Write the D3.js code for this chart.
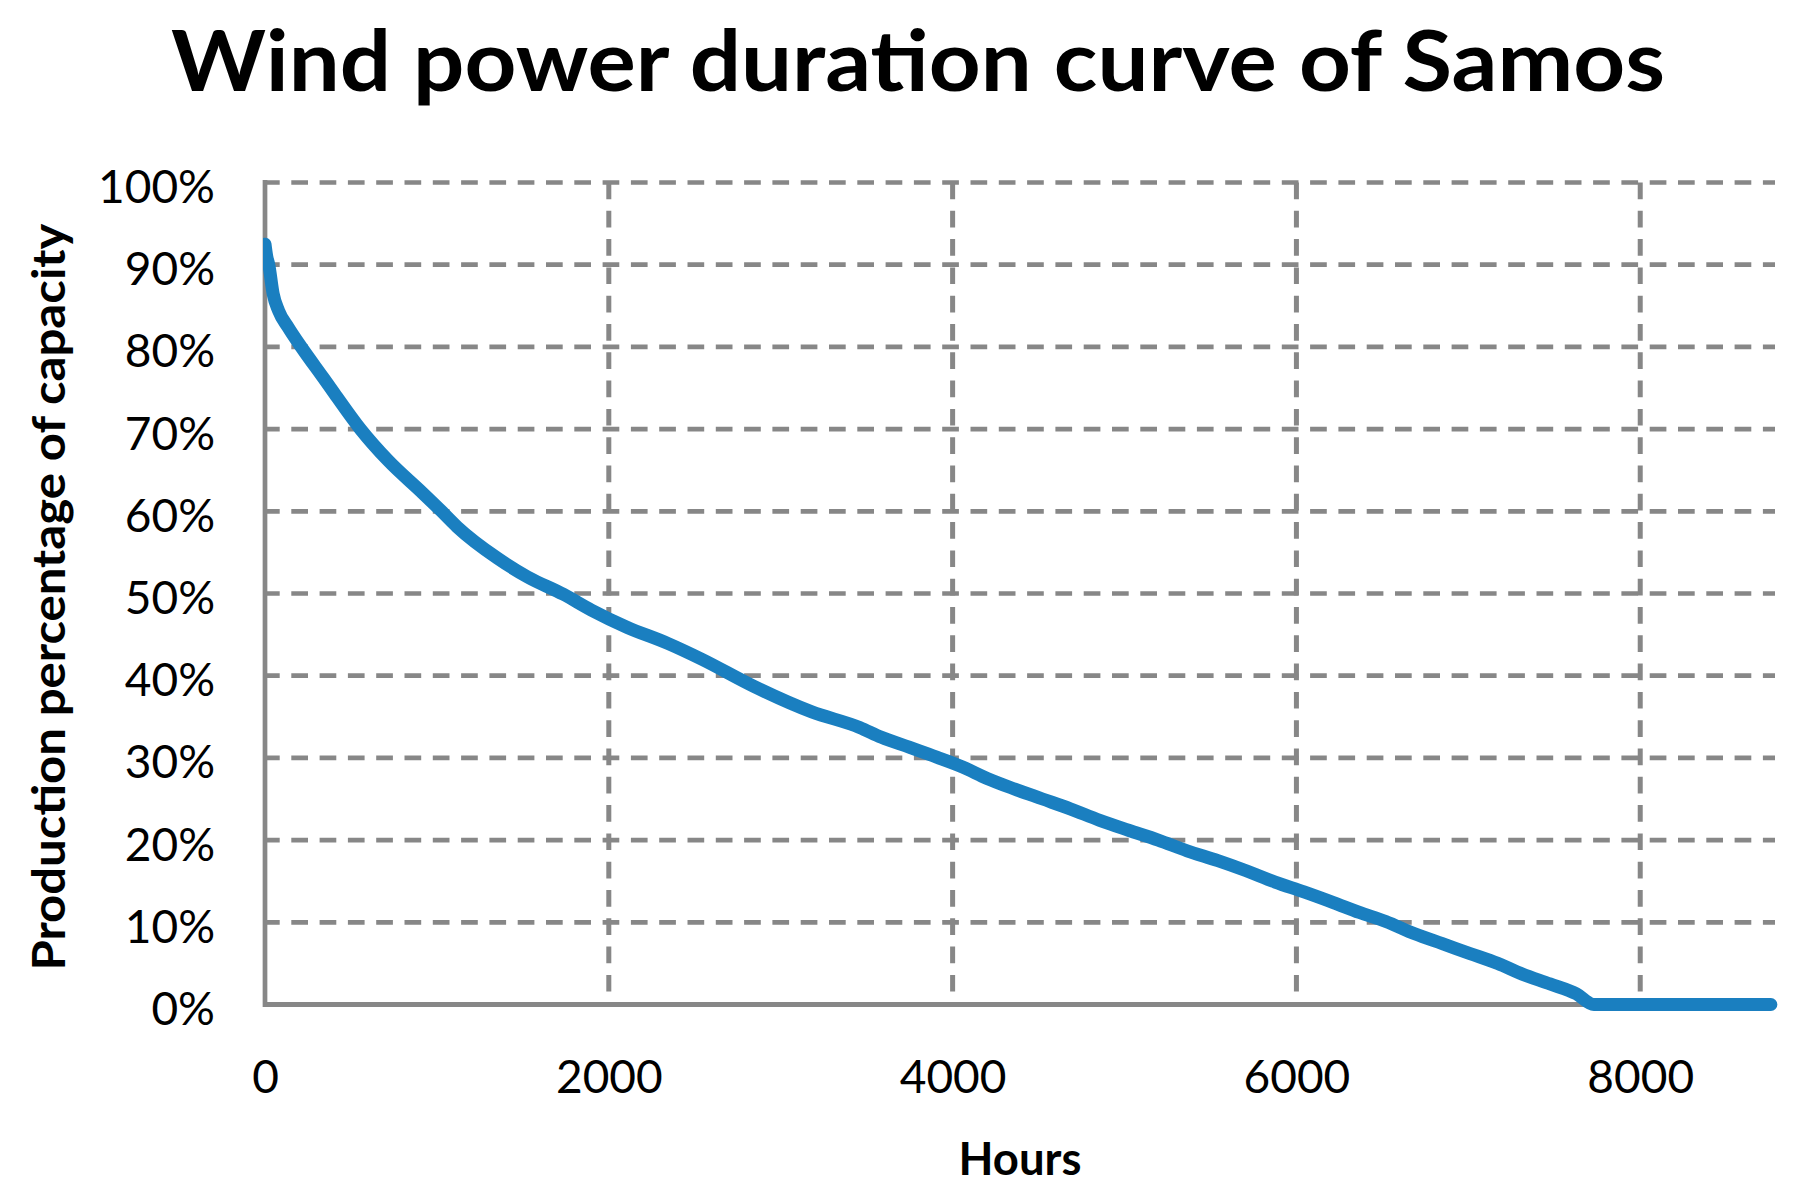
<!DOCTYPE html>
<html>
<head>
<meta charset="utf-8">
<script src="https://cdn.jsdelivr.net/npm/d3@7"></script>
<style>
  html, body { margin: 0; padding: 0; background: #ffffff; }
  svg { display: block; }
  text { font-family: Lato, "Open Sans", sans-serif; fill: #000; }
</style>
</head>
<body>
<svg id="chart" width="1816" height="1203"></svg>
<script>
// ---- data ----
const hours = [0, 10, 22, 47, 79, 134, 217, 337, 405, 555, 715, 918, 1022, 1118, 1352, 1529, 1736, 1897,
  2105, 2346, 2541, 2844, 3181, 3459, 3586, 3747, 3907, 4058, 4201, 4362, 4523, 4684, 4856, 5023,
  5196, 5364, 5543, 5704, 5876, 6044, 6215, 6366, 6520, 6688, 6849, 7010, 7171, 7314, 7475, 7628, 7730, 8760];
const production = [92.5, 91.0, 90.0, 86.5, 84.4, 82.4, 79.8, 76.3, 74.3, 70.0, 66.2, 62.2, 60.1, 58.1, 54.3, 52.0, 49.9, 48.0,
  45.9, 43.9, 42.0, 38.7, 35.6, 33.7, 32.5, 31.3, 30.1, 28.9, 27.5, 26.2, 25.0, 23.8, 22.4, 21.2,
  20.0, 18.7, 17.5, 16.3, 14.9, 13.7, 12.4, 11.2, 10.1, 8.6, 7.4, 6.2, 5.0, 3.7, 2.5, 1.3, 0, 0];
const xTicks = [0, 2000, 4000, 6000, 8000];
const yTicks = [0, 10, 20, 30, 40, 50, 60, 70, 80, 90, 100];
const xMax = 8784;
const titleText = "Wind power duration curve of Samos";
const xTitle = "Hours";
const yTitle = "Production percentage of capacity";

// ---- layout ----
const svg = d3.select("#chart");
const plot = { left: 265, right: 1775, top: 182.5, bottom: 1004.5 };
const gridColor = "#878787";
const lineColor = "#1a7fc0";

const x = d3.scaleLinear().domain([0, xMax]).range([plot.left, plot.right]);
const y = d3.scaleLinear().domain([0, 100]).range([plot.bottom, plot.top]);

// horizontal gridlines
svg.append("g").selectAll("line").data(yTicks.filter(d => d > 0)).join("line")
  .attr("x1", plot.left - 2).attr("x2", plot.right)
  .attr("y1", d => y(d)).attr("y2", d => y(d))
  .attr("stroke", gridColor).attr("stroke-width", 4.7)
  .attr("stroke-dasharray", "16.7,11.6");

// vertical gridlines
svg.append("g").selectAll("line").data(xTicks.filter(d => d > 0)).join("line")
  .attr("x1", d => x(d)).attr("x2", d => x(d))
  .attr("y1", plot.top).attr("y2", plot.bottom)
  .attr("stroke", gridColor).attr("stroke-width", 5)
  .attr("stroke-dasharray", "16.7,11.6");

// axes lines
svg.append("line")
  .attr("x1", plot.left).attr("x2", plot.left)
  .attr("y1", plot.top - 2.5).attr("y2", plot.bottom + 2.5)
  .attr("stroke", gridColor).attr("stroke-width", 4.7);
svg.append("line")
  .attr("x1", plot.left - 2).attr("x2", plot.right)
  .attr("y1", plot.bottom).attr("y2", plot.bottom)
  .attr("stroke", gridColor).attr("stroke-width", 5);

// tick labels via d3 axes (domain/ticks hidden, only text kept)
const yAxis = svg.append("g")
  .attr("transform", `translate(${plot.left},0)`)
  .call(d3.axisLeft(y).tickValues(yTicks).tickFormat(d => d + "%").tickSize(0).tickPadding(50));
yAxis.select(".domain").remove();
yAxis.selectAll("text")
  .attr("font-family", "Lato").attr("font-size", 46).attr("fill", "#000")
  .attr("dy", null).attr("y", 0).attr("dominant-baseline", "auto")
  .attr("transform", "translate(0,20)");

const xAxis = svg.append("g")
  .attr("transform", `translate(0,${plot.bottom})`)
  .call(d3.axisBottom(x).tickValues(xTicks).tickFormat(d3.format("d")).tickSize(0));
xAxis.select(".domain").remove();
xAxis.selectAll("text")
  .attr("font-family", "Lato").attr("font-size", 46).attr("fill", "#000")
  .attr("dy", null).attr("y", 88.5).attr("dominant-baseline", "auto");

// clip path (left edge clipped at the axis like the original)
svg.append("clipPath").attr("id", "clip")
  .append("rect").attr("x", plot.left - 2).attr("y", 0).attr("width", 1816).attr("height", 1203);

// data line
const data = hours.map((h, i) => ({ h, p: production[i] }));
const line = d3.line().x(d => x(d.h)).y(d => y(d.p)).curve(d3.curveMonotoneX);
svg.append("path")
  .datum(data)
  .attr("clip-path", "url(#clip)")
  .attr("d", line)
  .attr("fill", "none")
  .attr("stroke", lineColor)
  .attr("stroke-width", 13)
  .attr("stroke-linecap", "round")
  .attr("stroke-linejoin", "round");

// title
svg.append("text")
  .attr("x", 918).attr("y", 91)
  .attr("text-anchor", "middle")
  .attr("font-size", 84).attr("font-weight", "bold")
  .attr("textLength", 1494).attr("lengthAdjust", "spacingAndGlyphs")
  .text(titleText);

// x-axis title
svg.append("text")
  .attr("x", (plot.left + plot.right) / 2).attr("y", 1175)
  .attr("text-anchor", "middle")
  .attr("font-size", 46).attr("font-weight", "bold")
  .attr("textLength", 123).attr("lengthAdjust", "spacingAndGlyphs")
  .text(xTitle);

// y-axis title
svg.append("text")
  .attr("transform", "translate(65,597) rotate(-90)")
  .attr("text-anchor", "middle")
  .attr("font-size", 46).attr("font-weight", "bold")
  .attr("textLength", 747).attr("lengthAdjust", "spacingAndGlyphs")
  .text(yTitle);
</script>
</body>
</html>
